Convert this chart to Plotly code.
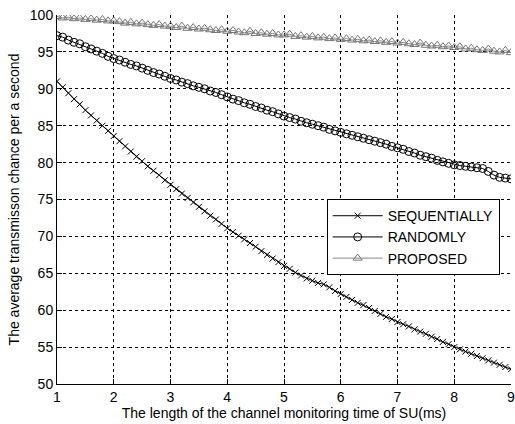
import plotly.graph_objects as go

x_vals = [round(1 + 0.1 * i, 1) for i in range(81)]

sequentially = [
    91.0, 90.2, 89.4, 88.6, 87.9, 87.1, 86.4, 85.7, 85.0, 84.3,
    83.6, 82.9, 82.2, 81.5, 80.8, 80.2, 79.5, 78.9, 78.3, 77.6,
    77.0, 76.4, 75.8, 75.2, 74.6, 74.0, 73.4, 72.8, 72.3, 71.7,
    71.1, 70.6, 70.1, 69.6, 69.1, 68.6, 68.0, 67.5, 67.0, 66.5,
    66.0, 65.6, 65.1, 64.7, 64.3, 64.0, 63.7, 63.5, 63.1, 62.6,
    62.2, 61.8, 61.4, 61.0, 60.7, 60.3, 59.9, 59.5, 59.1, 58.8,
    58.4, 58.1, 57.8, 57.4, 57.1, 56.8, 56.4, 56.1, 55.7, 55.4,
    55.0, 54.7, 54.4, 54.1, 53.8, 53.5, 53.2, 52.9, 52.6, 52.3,
    52.0,
]

randomly = [
    97.2, 97.0, 96.6, 96.3, 96.1, 95.7, 95.4, 95.1, 94.8, 94.4,
    94.1, 93.9, 93.6, 93.3, 93.1, 92.8, 92.5, 92.2, 92.0, 91.7,
    91.4, 91.2, 90.9, 90.7, 90.4, 90.2, 90.0, 89.7, 89.5, 89.2,
    88.9, 88.6, 88.4, 88.1, 87.9, 87.6, 87.4, 87.1, 86.9, 86.6,
    86.3, 86.1, 85.9, 85.6, 85.4, 85.2, 85.0, 84.8, 84.5, 84.3,
    84.1, 83.9, 83.7, 83.5, 83.3, 83.1, 82.9, 82.7, 82.5, 82.2,
    82.0, 81.8, 81.5, 81.3, 81.0, 80.8, 80.6, 80.3, 80.1, 79.9,
    79.7, 79.6, 79.5, 79.4, 79.3, 79.2, 78.8, 78.3, 78.0, 77.9,
    77.8,
]

proposed = [
    99.8, 99.6, 99.7, 99.5, 99.6, 99.4, 99.5, 99.3, 99.4, 99.2,
    99.2, 99.1, 98.9, 99.0, 98.8, 98.9, 98.7, 98.6, 98.7, 98.5,
    98.5, 98.3, 98.5, 98.2, 98.3, 98.1, 98.2, 98.0, 97.9, 98.0,
    97.8, 97.9, 97.7, 97.6, 97.8, 97.5, 97.6, 97.4, 97.5, 97.3,
    97.3, 97.4, 97.1, 97.2, 97.0, 97.1, 96.9, 97.0, 96.8, 96.9,
    96.7, 96.8, 96.6, 96.7, 96.5, 96.6, 96.4, 96.5, 96.3, 96.4,
    96.2, 96.3, 96.1, 96.0, 96.2, 95.9, 95.8, 95.9, 95.7, 95.8,
    95.6, 95.7, 95.4, 95.5, 95.3, 95.2, 95.4, 95.1, 95.0, 95.2,
    94.9,
]

x_ticks = [1, 2, 3, 4, 5, 6, 7, 8, 9]
y_ticks = [50, 55, 60, 65, 70, 75, 80, 85, 90, 95, 100]

FONT = "Liberation Sans, Arial"

fig = go.Figure()
fig.add_trace(go.Scatter(
    x=x_vals, y=sequentially, name="SEQUENTIALLY", mode="lines+markers",
    line=dict(color="black", width=1),
    marker=dict(symbol="x-thin-open", size=6, line=dict(color="black", width=1)),
))
fig.add_trace(go.Scatter(
    x=x_vals, y=randomly, name="RANDOMLY", mode="lines+markers",
    line=dict(color="black", width=1),
    marker=dict(symbol="circle-open", size=8, color="black", line=dict(color="black", width=1)),
))
fig.add_trace(go.Scatter(
    x=x_vals, y=proposed, name="PROPOSED", mode="lines+markers",
    line=dict(color="#8a8a8a", width=1),
    marker=dict(symbol="triangle-up-open", size=8, color="#777777", line=dict(color="#777777", width=1)),
))

axis_common = dict(
    showgrid=True, gridcolor="black", gridwidth=1, griddash="3px,3px",
    showline=True, linecolor="black", linewidth=1,
    ticks="inside", ticklen=5, tickcolor="black",
    zeroline=False, automargin=False, ticklabeloverflow="allow",
    tickfont=dict(family=FONT, size=14, color="black"),
)

fig.update_xaxes(range=[1, 9], tickvals=x_ticks, **axis_common,
                 title=dict(text="The length of the channel monitoring time of SU(ms)",
                            font=dict(family=FONT, size=14, color="black"),
                            standoff=1))
fig.update_yaxes(range=[50, 100], tickvals=y_ticks, **axis_common,
                 title=dict(text="The average transmisson chance per a second",
                            font=dict(family=FONT, size=14, color="black"),
                            standoff=6))

fig.update_layout(
    width=515, height=424,
    margin=dict(l=57, r=4, t=15, b=40),
    plot_bgcolor="white", paper_bgcolor="white",
    font=dict(family=FONT, color="black"),
    legend=dict(
        x=0.594, y=0.501, xanchor="left", yanchor="top",
        bgcolor="white", bordercolor="black", borderwidth=1,
        font=dict(family=FONT, size=14, color="black"),
        tracegroupgap=0, itemwidth=50,
    ),
)

fig.write_html(
    "out.html",
    config={"displayModeBar": False},
    post_script="document.body.style.margin='0px';document.body.style.overflow='hidden';",
)
